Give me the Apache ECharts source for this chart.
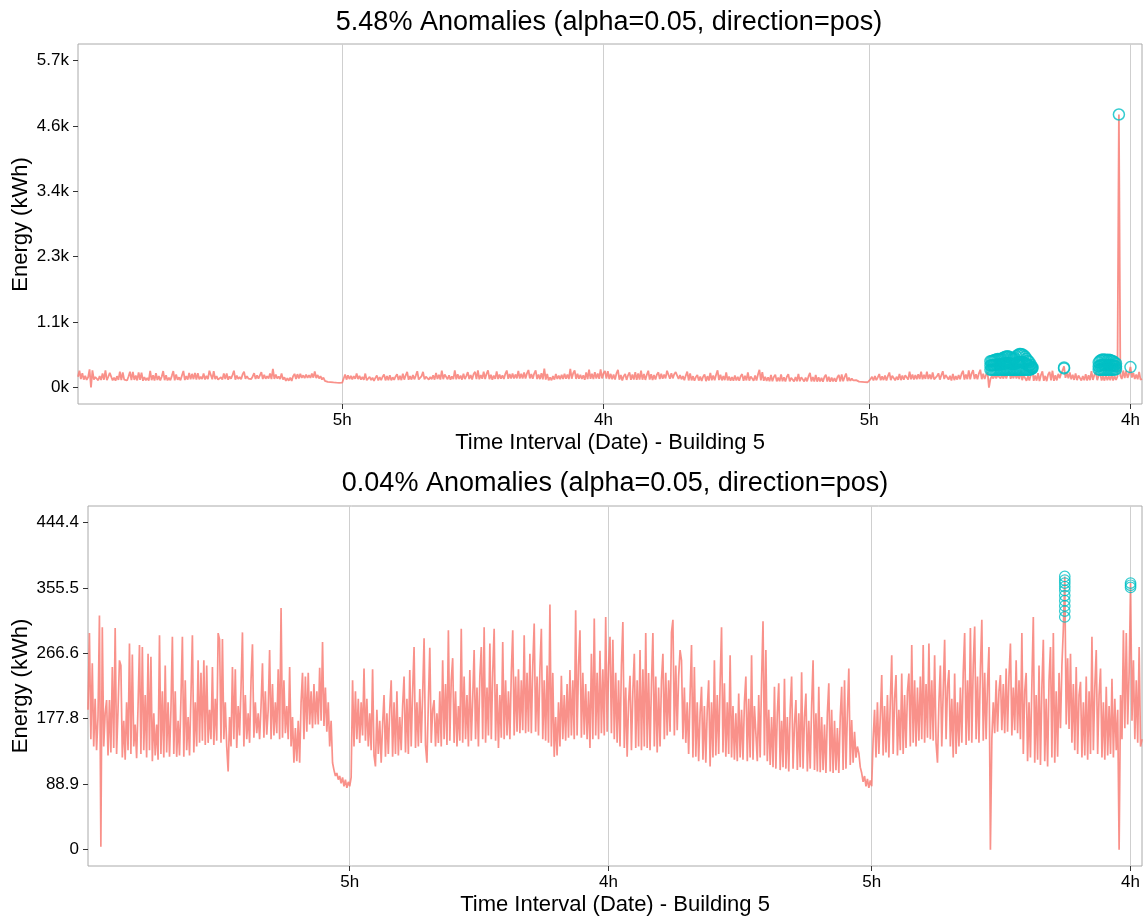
<!DOCTYPE html>
<html>
<head>
<meta charset="utf-8">
<script src="https://cdn.jsdelivr.net/npm/echarts@6/dist/echarts.min.js"></script>
<style>
html,body{margin:0;padding:0;background:#fff;}
#chart{width:1148px;height:919px;}
</style>
</head>
<body>
<div id="chart"></div>
<script>
// ---- x axis (days since start of record) ----
const tickDays = [184, 365, 549, 730];
const tickLabels = ['5h', '4h', '5h', '4h'];

// ---- y axis ticks ----
const topYTicks = [0, 1140, 2280, 3420, 4560, 5700];
const topYLabels = ['0k', '1.1k', '2.3k', '3.4k', '4.6k', '5.7k'];
const botYTicks = [0, 88.88, 177.76, 266.64, 355.52, 444.4];
const botYLabels = ['0', '88.9', '177.8', '266.6', '355.5', '444.4'];

// ---- energy (kWh), one reading per day, day 1..738 ----
const energyKwh = [
190,294,150,253,140,205,135,180,318,4,
302,140,185,203,128,203,132,248,138,301,
130,190,257,250,125,175,122,200,135,280,
130,265,140,170,124,195,278,130,275,135,
210,125,266,135,262,120,185,128,170,122,
291,130,215,125,250,132,200,126,190,289,
130,215,126,175,128,205,289,126,230,135,
180,128,210,291,132,200,140,257,145,240,
148,257,142,250,145,190,150,248,142,205,
148,294,285,145,286,150,200,140,106,180,
140,248,150,245,138,195,155,220,295,140,
210,150,185,145,230,279,152,200,158,185,
150,195,253,152,215,156,190,271,150,225,
155,200,158,245,150,328,152,230,158,195,
150,248,140,180,118,165,120,175,118,200,
240,150,235,160,240,170,215,165,225,170,
215,170,247,175,282,168,220,160,200,140,
175,118,108,100,104,95,100,90,98,86,
95,84,92,86,98,230,140,215,150,205,
145,200,155,246,148,205,140,185,135,245,
128,113,190,130,175,118,170,210,126,185,
130,190,230,126,200,130,215,128,180,135,
195,235,132,205,130,244,140,215,275,138,
200,140,218,145,210,287,142,118,200,274,
145,190,203,140,185,145,215,140,257,150,
225,142,298,148,230,260,145,215,140,195,
148,300,145,235,150,210,140,244,148,205,
271,150,220,140,235,275,150,302,145,220,
155,280,150,240,300,148,225,138,210,152,
282,150,230,155,215,150,240,298,155,235,
160,245,158,230,162,291,158,240,160,266,
158,250,307,160,235,155,245,300,150,230,
148,250,145,333,140,240,126,180,128,200,
140,236,150,210,148,225,152,244,155,230,
150,325,155,250,298,152,240,156,225,150,
215,138,266,150,314,155,240,150,270,158,
245,155,316,160,250,289,158,285,150,240,
145,230,140,250,309,138,220,126,200,236,
135,215,266,138,230,140,271,135,245,140,
294,138,240,135,225,294,140,235,132,220,
140,230,266,150,240,155,230,160,295,312,
155,250,162,235,271,257,150,220,145,200,
130,210,278,125,248,126,200,120,185,221,
122,195,118,190,230,113,200,125,257,128,
210,130,225,302,132,226,126,200,130,264,
125,195,122,185,120,212,125,190,122,200,
235,120,205,125,264,122,195,158,120,210,
125,230,310,128,271,120,190,115,180,112,
221,110,185,226,108,175,112,232,110,180,
106,190,235,110,170,203,108,185,112,241,
110,180,212,106,175,110,195,257,108,185,
106,221,105,180,108,170,104,185,226,106,
190,104,175,108,165,104,180,221,108,230,
110,185,246,115,176,118,160,125,140,131,
112,104,92,100,86,96,84,94,86,150,
190,125,200,130,180,237,128,195,132,210,
125,200,264,130,205,237,128,190,135,239,
130,210,138,215,239,140,278,145,230,140,
220,148,235,150,278,145,225,152,280,150,
230,148,264,145,118,200,250,140,215,285,
150,220,244,140,205,125,239,130,200,140,
220,145,240,294,142,230,148,301,145,250,
303,150,235,145,245,312,148,240,150,225,
275,0,150,200,158,230,160,215,237,162,
225,158,246,160,235,280,155,220,162,257,
158,230,150,294,130,215,240,120,200,125,
225,316,118,210,122,250,115,220,285,120,
205,113,230,275,125,294,118,215,126,240,
165,250,300,371,170,260,164,266,145,225,
135,248,130,210,228,125,200,128,235,122,
215,130,289,135,220,271,130,210,246,125,
200,122,221,128,195,130,232,125,205,135,
190,0,210,150,298,165,294,170,240,362,
175,257,150,230,145,275,140,150
];

// raw (top panel) readings that differ from the cleaned series: [day, kWh]
const rawOverrides = [[722, 4757]];

// anomalies flagged in the raw series (top panel): [day, kWh]
const topAnomalies = [
[633,311],[633,385],[633,460],[634,311],[634,390],[634,465],[635,311],[635,390],[635,472],
[636,311],[636,395],[636,480],[637,311],[637,400],[637,490],[638,311],[638,405],[638,498],
[639,311],[639,405],[639,500],[640,311],[640,405],[640,498],[641,311],[641,410],[641,505],
[642,311],[642,415],[642,520],[643,311],[643,420],[643,535],[644,311],[644,425],[644,543],
[645,311],[645,430],[645,545],[646,311],[646,425],[646,540],[647,311],[647,420],[647,525],
[648,311],[648,410],[648,510],[649,311],[649,410],[649,505],[650,311],[650,415],[650,515],
[651,311],[651,425],[651,545],[652,311],[652,440],[652,570],[653,311],[653,445],[653,585],
[654,311],[654,445],[654,585],[655,311],[655,445],[655,580],[656,311],[656,440],[656,565],
[657,311],[657,425],[657,540],[658,311],[658,410],[658,505],[659,311],[659,390],[659,470],
[660,311],[660,380],[660,445],[661,320],[661,360],[661,400],[662,330],[662,345],[662,360],
[684,335],[684,350],
[708,315],[708,370],[708,440],[709,311],[709,385],[709,470],[710,311],[710,395],[710,486],
[711,311],[711,400],[711,490],[712,311],[712,395],[712,486],[713,311],[713,395],[713,486],
[714,311],[714,390],[714,480],[715,311],[715,395],[715,486],[716,311],[716,390],[716,480],
[717,311],[717,390],[717,470],[718,311],[718,385],[718,460],[719,315],[719,380],[719,440],
[720,320],[720,370],[720,420],
[722,4757],[730,358]
];

// anomalies flagged in the cleaned series (bottom panel): [day, kWh]
const botAnomalies = [
[684,316],[684,324],[684,331],[684,338],[684,345],[684,352],[684,357],[684,362],[684,366],[684,371],
[730,356],[730,359],[730,362]
];

const titles = ['5.48% Anomalies (alpha=0.05, direction=pos)', '0.04% Anomalies (alpha=0.05, direction=pos)'];
const xName = 'Time Interval (Date) - Building 5';
const yName = 'Energy (kWh)';

// ---- build series data ----
const botLine = energyKwh.map((v, i) => [i + 1, v]);
const topLine = energyKwh.map((v, i) => {
  const o = rawOverrides.find(r => r[0] === i + 1);
  return [i + 1, o ? o[1] : v];
});

const FONT = 'Liberation Sans, Arial, Helvetica, sans-serif';
const LINE_COLOR = '#F8766D';
const ANOM_COLOR = '#00BFC4';

function labelFor(ticks, labels) {
  return function (v) {
    for (let i = 0; i < ticks.length; i++) if (Math.abs(ticks[i] - v) < 1e-6) return labels[i];
    return '';
  };
}

function xAxisCfg(gi) {
  return {
    type: 'value', gridIndex: gi, min: 1, max: 738, position: 'bottom',
    axisLine: { show: false, onZero: false },
    axisTick: { show: true, customValues: tickDays, length: 5, lineStyle: { color: '#333', width: 1 } },
    axisLabel: { show: true, customValues: tickDays, formatter: labelFor(tickDays, tickLabels),
      fontSize: 17, color: '#000', fontFamily: FONT, margin: 8 },
    splitLine: { show: true, lineStyle: { color: '#CFCFCF', width: 1 } }
  };
}
function yAxisCfg(gi, min, max, ticks, labels) {
  return {
    type: 'value', gridIndex: gi, min: min, max: max, position: 'left',
    axisLine: { show: false, onZero: false },
    axisTick: { show: true, customValues: ticks, length: 5, lineStyle: { color: '#333', width: 1 } },
    axisLabel: { show: true, customValues: ticks, formatter: labelFor(ticks, labels),
      fontSize: 17, color: '#000', fontFamily: FONT, margin: 9 },
    splitLine: { show: false }
  };
}

const chart = echarts.init(document.getElementById('chart'), null, { renderer: 'canvas' });
chart.setOption({
  animation: false,
  backgroundColor: '#fff',
  textStyle: { fontFamily: FONT },
  grid: [
    { left: 78, top: 44, width: 1064, height: 360, show: true, borderColor: '#AAAAAA', borderWidth: 1, backgroundColor: 'transparent' },
    { left: 88, top: 506, width: 1054, height: 360, show: true, borderColor: '#AAAAAA', borderWidth: 1, backgroundColor: 'transparent' }
  ],
  xAxis: [xAxisCfg(0), xAxisCfg(1)],
  yAxis: [
    yAxisCfg(0, -285, 5985, topYTicks, topYLabels),
    yAxisCfg(1, -22.22, 466.62, botYTicks, botYLabels)
  ],
  series: [
    { type: 'line', xAxisIndex: 0, yAxisIndex: 0, data: topLine, showSymbol: false, silent: true,
      lineStyle: { color: LINE_COLOR, width: 1.8, opacity: 0.8 }, z: 2 },
    { type: 'scatter', xAxisIndex: 0, yAxisIndex: 0, data: topAnomalies, symbol: 'circle', symbolSize: 11, silent: true,
      itemStyle: { color: 'rgba(0,0,0,0)', borderColor: ANOM_COLOR, borderWidth: 1.5 }, z: 3 },
    { type: 'line', xAxisIndex: 1, yAxisIndex: 1, data: botLine, showSymbol: false, silent: true,
      lineStyle: { color: LINE_COLOR, width: 1.7, opacity: 0.8 }, z: 2 },
    { type: 'scatter', xAxisIndex: 1, yAxisIndex: 1, data: botAnomalies, symbol: 'circle', symbolSize: 10.5, silent: true,
      itemStyle: { color: 'rgba(0,0,0,0)', borderColor: ANOM_COLOR, borderWidth: 1.2 }, z: 3 }
  ],
  graphic: [
    { type: 'text', x: 609, y: 23, silent: true, style: { text: titles[0], fontSize: 27, fontFamily: FONT, fill: '#000', align: 'center', verticalAlign: 'middle' } },
    { type: 'text', x: 615, y: 484, silent: true, style: { text: titles[1], fontSize: 27, fontFamily: FONT, fill: '#000', align: 'center', verticalAlign: 'middle' } },
    { type: 'text', x: 610, y: 443, silent: true, style: { text: xName, fontSize: 22, fontFamily: FONT, fill: '#000', align: 'center', verticalAlign: 'middle' } },
    { type: 'text', x: 615, y: 905, silent: true, style: { text: xName, fontSize: 22, fontFamily: FONT, fill: '#000', align: 'center', verticalAlign: 'middle' } },
    { type: 'text', x: 20.5, y: 224.5, rotation: Math.PI / 2, silent: true, style: { text: yName, fontSize: 22, fontFamily: FONT, fill: '#000', align: 'center', verticalAlign: 'middle' } },
    { type: 'text', x: 20.5, y: 686, rotation: Math.PI / 2, silent: true, style: { text: yName, fontSize: 22, fontFamily: FONT, fill: '#000', align: 'center', verticalAlign: 'middle' } }
  ]
});
</script>
</body>
</html>
